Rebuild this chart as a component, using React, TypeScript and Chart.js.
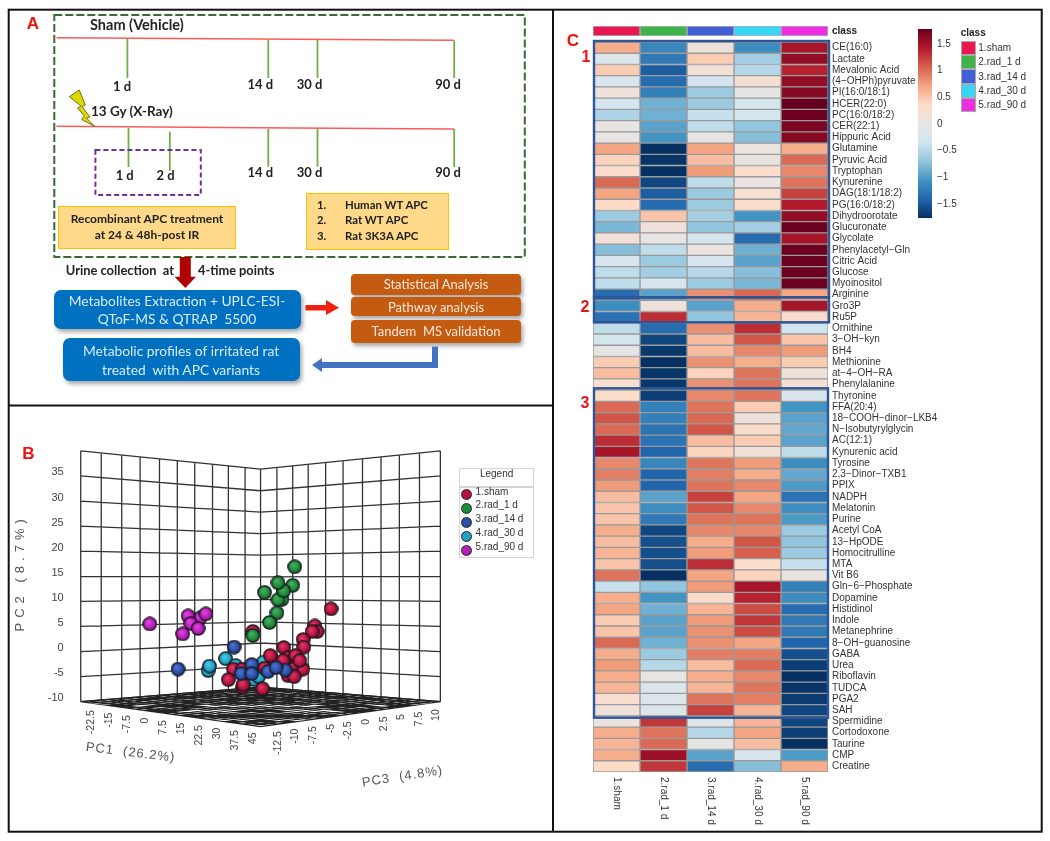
import React, { useEffect, useRef } from "react";
import { Chart, registerables } from "chart.js";

Chart.register(...registerables);

const classes = ["1.sham", "2.rad_1 d", "3.rad_14 d", "4.rad_30 d", "5.rad_90 d"];
const classColors = ["#e8174f", "#3cb44a", "#4060d8", "#38d6f5", "#ee2ee0"];

const metabolites = [
  "CE(16:0)", "Lactate", "Mevalonic Acid", "(4−OHPh)pyruvate", "PI(16:0/18:1)", "HCER(22:0)", "PC(16:0/18:2)", "CER(22:1)", "Hippuric Acid",
  "Glutamine", "Pyruvic Acid", "Tryptophan", "Kynurenine", "DAG(18:1/18:2)", "PG(16:0/18:2)", "Dihydroorotate", "Glucuronate", "Glycolate",
  "Phenylacetyl−Gln", "Citric Acid", "Glucose", "Myoinositol", "Arginine", "Gro3P", "Ru5P", "Ornithine", "3−OH−kyn", "BH4", "Methionine",
  "at−4−OH−RA", "Phenylalanine", "Thyronine", "FFA(20:4)", "18−COOH−dinor−LKB4", "N−Isobutyrylglycin", "AC(12:1)", "Kynurenic acid", "Tyrosine",
  "2,3−Dinor−TXB1", "PPIX", "NADPH", "Melatonin", "Purine", "Acetyl CoA", "13−HpODE", "Homocitrulline", "MTA", "Vit B6", "Gln−6−Phosphate",
  "Dopamine", "Histidinol", "Indole", "Metanephrine", "8−OH−guanosine", "GABA", "Urea", "Riboflavin", "TUDCA", "PGA2", "SAH", "Spermidine",
  "Cortodoxone", "Taurine", "CMP", "Creatine",
];

const shamZ = [0.65,-0.2,0.45,-0.25,0.1,-0.3,-0.55,0,-0.02,0.7,0.4,0.3,1,0.7,0.35,-0.65,-0.8,0.15,-0.75,-0.25,-0.45,-0.45,-1.35,-1.1,-1.3,-0.45,-0.3,-0.05,0.45,0.55,0.25,0.3,1,1.1,1,1.3,1.45,0.85,0.9,0.75,0.55,0.5,0.5,0.65,0.55,0.6,0.5,0.95,-0.4,0.65,0.7,0.45,0.5,1,0.65,0.75,0.65,0.6,0.25,0.1,0.05,0.65,0.6,0.65,0.35];
const rad1Z = [-1.15,-1.25,-1.45,-1.35,-1.2,-0.85,-0.85,-0.95,-1.05,-1.75,-1.72,-1.75,-1.6,-1.45,-1.35,0.5,0.12,-0.02,-0.45,-0.65,-0.6,-0.25,-0.95,0.1,1.3,-1.35,-1.6,-1.7,-1.75,-1.72,-1.7,-1.65,-1.2,-1.2,-1.3,-1.3,-1.4,-1.15,-1.4,-1.4,-0.95,-1.1,-1.25,-1.6,-1.55,-1.55,-1.55,-1.75,-0.7,-1.05,-0.85,-0.95,-0.95,-0.85,-0.65,-0.5,0,-0.2,-0.2,-0.2,1.25,0.95,1,1.5,1.25];
const rad14Z = [0.1,0.45,0.15,-0.3,-0.65,-0.65,-0.4,-0.45,0,0.7,0.55,0.75,-0.45,-0.65,-0.65,-0.6,-0.7,-0.3,0.03,-0.25,-0.5,-0.65,0.8,-0.95,-0.7,0.8,0.55,0.55,0.8,0.4,0.8,0.85,0.95,1,1.1,0.55,0.4,0.95,0.9,0.95,1.2,1.1,0.95,0.85,0.65,0.75,1.3,0.7,0.75,0.3,0.6,0.75,0.8,0.8,0.9,0.55,0.65,0.6,0.95,1.2,-0.15,-0.5,-0.05,-0.95,-1.35];
const rad30Z = [-1.1,-0.6,-0.5,0.2,-0.05,-0.3,-0.3,-0.7,-0.75,0.05,0.02,0.3,0.03,0.2,0.3,-1.05,-0.6,-1.35,-0.85,-0.95,-0.75,-0.8,1,0.65,0.6,1.3,1.1,0.85,0.65,0.95,0.95,0.95,0.45,0.1,0.3,0.45,0.15,0.75,0.65,0.85,0.7,0.85,0.95,0.85,1.1,1.05,0.3,0.4,1.45,1.35,1.15,1.25,1.15,0.7,0.9,1,0.85,0.95,0.9,0.6,0.6,0.7,0.55,-0.25,-0.75];
const rad90Z = [1.45,1.55,1.35,1.55,1.6,1.75,1.72,1.65,1.6,0.65,1,0.85,0.95,1.2,1.4,1.55,1.72,1.45,1.72,1.72,1.72,1.72,0.7,1.45,0.3,-0.35,0.5,0.75,0.45,0.1,0.2,-0.25,-1.05,-0.95,-0.9,-0.95,-0.45,-1.1,-0.9,-1,-1.3,-1.1,-1,-0.65,-0.7,-0.65,-0.4,0.02,-1.2,-1.1,-1.35,-1.25,-1.25,-1.4,-1.55,-1.65,-1.75,-1.72,-1.68,-1.6,-1.6,-1.65,-1.75,-1,0.65];
const heatColumns = [shamZ, rad1Z, rad14Z, rad30Z, rad90Z];

const colorStops = ["#053061", "#2166ac", "#4393c3", "#92c5de", "#d1e5f0", "#e8e4e2", "#fddbc7", "#f4a582", "#d6604d", "#b2182b", "#67001f"];
const colorTicks = [1.5, 1, 0.5, 0, -0.5, -1, -1.5];

// Panel B: projected horizontal position, PC2 value
const shamPts = [[39.2,8.5],[30.2,5.1],[31.5,4.0],[28.7,4.0],[-4.3,4.0],[23.7,2.4],[24.1,0.9],[12.9,0.8],[18.5,-3.1],[23.5,-3.5],[17.5,-2.8],[15.3,-1.2],[19.4,-0.8],[12.5,-1.8],[21.8,-1.8],[5.4,-0.8],[2.2,-3.3],[15.3,-4.8],[18.7,-5.0],[-15.1,-3.5],[-10.1,-3.5],[-17.9,-5.6],[-10.1,-7.1],[-9.7,-6.6],[1.1,-7.4]];
const rad1Pts = [[19.0,16.9],[17.9,13.2],[11.9,10.4],[9.7,10.3],[12.9,12.1],[9.7,13.7],[2.2,11.8],[9.1,7.7],[5.0,5.8],[-4.3,3.2]];
const rad14Pts = [[-14.7,0.9],[-45.9,-3.5],[-4.9,-2.6],[13.8,-3.7],[4.1,-4.0],[8.6,-3.2],[-10.8,-4.4],[-4.9,-4.4]];
const rad30Pts = [[-19.4,-1.4],[-29.1,-3.8],[-28.4,-2.9],[-13.8,-2.8],[1.7,-2.1],[-5.4,-3.1],[-8.6,-4.4],[-3.7,-5.6],[-1.1,-5.0]];
const rad90Pts = [[-61.6,5.5],[-33.6,6.7],[-40.3,7.1],[-30.4,7.5],[-38.8,5.6],[-34.7,4.6],[-43.3,3.5]];
const ballColors = ["#b5123f", "#1f8a3a", "#2a4ea8", "#22a3c4", "#b81fb8"];

const leftWallX = [-100,-88.6,-77.2,-67,-56.2,-46.3,-36.6,-26.7,-17.9,-8.6,0];
const rightWallX = [0,9.1,17.9,26.5,36.2,45.9,56.7,67,77.2,88.4,100];
const edgeLevels = [40,35,30,25,20,15,10,5,0,-5,-10];
const backLevels = [36.35,32.05,27.8,23.5,19.2,14.9,10.4,5.9,1.7,-2.8,-7.1];
const pc2Ticks = [35,30,25,20,15,10,5,0,-5,-10];
const pc1Ticks = ["-22.5","-15","-7.5","0","7.5","15","22.5","30","37.5","45"];
const pc3Ticks = ["-12.5","-10","-7.5","-5","-2.5","0","2.5","5","7.5","10"];
const FRONT_Y = -14.94;

const SANS = '"Liberation Sans", Arial, sans-serif';
const LATO = 'Lato, "Open Sans", sans-serif';

function hexRgb(h: string) {
  return [1, 3, 5].map((i) => parseInt(h.slice(i, i + 2), 16));
}
function heatColor(z: number) {
  const t = Math.max(0, Math.min(0.99999, (z + 1.75) / 3.5)) * (colorStops.length - 1);
  const i = Math.floor(t);
  const f = t - i;
  const a = hexRgb(colorStops[i]);
  const b = hexRgb(colorStops[i + 1]);
  return `rgb(${a.map((v, k) => Math.round(v + (b[k] - v) * f)).join(",")})`;
}
function sphere(color: string, d = 15) {
  const c = document.createElement("canvas");
  c.width = d;
  c.height = d;
  const g = c.getContext("2d")!;
  const r = d / 2 - 0.8;
  const grad = g.createRadialGradient(d / 2 - 1.5, d / 2 - 2, 1, d / 2, d / 2, r);
  const [R, G, B] = hexRgb(color);
  grad.addColorStop(0, `rgb(${Math.min(255, R + 35)},${Math.min(255, G + 35)},${Math.min(255, B + 35)})`);
  grad.addColorStop(0.65, color);
  grad.addColorStop(1, `rgb(${R * 0.55},${G * 0.55},${B * 0.55})`);
  g.fillStyle = grad;
  g.beginPath();
  g.arc(d / 2, d / 2, r, 0, Math.PI * 2);
  g.fill();
  g.strokeStyle = "#1a1a22";
  g.lineWidth = 1.3;
  g.stroke();
  return c;
}
const lerp = (a: number, b: number, t: number) => a + (b - a) * t;
const gap = { x: NaN, y: NaN };

function buildGrid() {
  const pts: any[] = [];
  const seg = (x1: number, y1: number, x2: number, y2: number) => pts.push({ x: x1, y: y1 }, { x: x2, y: y2 }, gap);
  edgeLevels.forEach((lv, i) => {
    seg(-100, lv, 0, backLevels[i]);
    seg(0, backLevels[i], 100, lv);
  });
  const top0 = edgeLevels[0], topB = backLevels[0];
  const bot0 = edgeLevels[10], botB = backLevels[10];
  leftWallX.forEach((x) => {
    const t = (x + 100) / 100;
    seg(x, lerp(top0, topB, t), x, lerp(bot0, botB, t));
  });
  rightWallX.forEach((x) => {
    const t = 1 - x / 100;
    seg(x, lerp(top0, topB, t), x, lerp(bot0, botB, t));
  });
  return pts;
}
function buildFloor() {
  const pts: any[] = [];
  const n = 20;
  for (let i = 0; i <= n; i++) {
    const t = i / n;
    pts.push({ x: lerp(-100, 0, t), y: lerp(-10, -7.1, t) }, { x: lerp(0, 100, t), y: lerp(FRONT_Y, -10, t) }, gap);
    pts.push({ x: lerp(100, 0, t), y: lerp(-10, -7.1, t) }, { x: lerp(0, -100, t), y: lerp(FRONT_Y, -10, t) }, gap);
  }
  return pts;
}

const pcaLabels = {
  id: "pcaLabels",
  afterDraw(chart: any) {
    const { ctx, scales } = chart;
    const xs = scales.x, ys = scales.y;
    const rot = (txt: string, px: number, py: number, angle: number, align: CanvasTextAlign) => {
      ctx.save();
      ctx.translate(px, py);
      ctx.rotate(angle);
      ctx.textAlign = align;
      ctx.textBaseline = "middle";
      ctx.fillText(txt, 0, 0);
      ctx.restore();
    };
    ctx.save();
    ctx.fillStyle = "#444";
    ctx.font = `11px ${SANS}`;
    pc2Ticks.forEach((v) => rot(String(v), xs.getPixelForValue(-100) - 17, ys.getPixelForValue(v) - 3.5, 0, "right"));
    ctx.font = `10.5px ${SANS}`;
    pc1Ticks.forEach((l, k) => {
      const t = (k + 0.6) / 10;
      rot(l, xs.getPixelForValue(-100 + 100 * t), ys.getPixelForValue(lerp(-10, FRONT_Y, t)) + 7, -Math.PI / 2, "right");
    });
    pc3Ticks.forEach((l, k) => {
      const t = 0.097 + 0.098 * k;
      rot(l, xs.getPixelForValue(100 * t), ys.getPixelForValue(lerp(FRONT_Y, -10, t)) + 7, -Math.PI / 2, "right");
    });
    ctx.fillStyle = "#555";
    ctx.font = `13px ${SANS}`;
    (ctx as any).letterSpacing = "0.7px";
    rot("P C 2   ( 8 . 7 % )", 10.5, 145, -Math.PI / 2, "center");
    (ctx as any).letterSpacing = "1px";
    rot("PC1  (26.2%)", 120.5, 322.7, (7 * Math.PI) / 180, "center");
    rot("PC3  (4.8%)", 392.6, 346.7, (-9 * Math.PI) / 180, "center");
    (ctx as any).letterSpacing = "0px";
    ctx.restore();
  },
};

const heatXLabels = {
  id: "heatXLabels",
  afterDraw(chart: any) {
    const { ctx, scales, chartArea } = chart;
    ctx.save();
    ctx.fillStyle = "#333";
    ctx.font = `10px ${SANS}`;
    classes.forEach((c, i) => {
      ctx.save();
      ctx.translate(scales.x.getPixelForValue(i + 0.5), chartArea.bottom + 5);
      ctx.rotate(Math.PI / 2);
      ctx.textAlign = "left";
      ctx.textBaseline = "middle";
      ctx.fillText(c, 0, 0);
      ctx.restore();
    });
    ctx.restore();
  },
};

const baseOpts: any = {
  responsive: false,
  animation: false,
  events: [],
  plugins: { legend: { display: false }, tooltip: { enabled: false } },
};

const fixedWidth = (width: number) => (s: any) => {
  s.width = width;
  s.paddingTop = 0;
  s.paddingBottom = 0;
};

const yRightAxis = (width: number, font: any, color = "#333") => ({
  position: "right",
  grid: { display: false, drawTicks: false },
  border: { display: false },
  ticks: { autoSkip: false, font, color, padding: 4 },
  afterFit: fixedWidth(width),
});

function Box(p: { l: number; t: number; w: number; h: number; bg: string; border?: string; r?: number; shadow?: boolean; children?: any }) {
  return (
    <div
      style={{
        position: "absolute", left: p.l, top: p.t, width: p.w, height: p.h, background: p.bg, boxSizing: "border-box",
        border: p.border ? `1.5px solid ${p.border}` : undefined, borderRadius: p.r || 0,
        boxShadow: p.shadow ? "2px 3px 4px rgba(0,0,0,0.35)" : undefined,
      }}
    />
  );
}
function T(p: { x: number; y: number; s: number; c?: string; b?: boolean; a?: "l" | "c"; f?: string; children: any }) {
  return (
    <div
      style={{
        position: "absolute", left: p.x, top: p.y, fontSize: p.s, color: p.c || "#222", fontWeight: p.b ? 700 : 400,
        fontFamily: p.f || LATO, whiteSpace: "pre", lineHeight: 1,
        transform: p.a === "c" ? "translate(-50%,-50%)" : "translate(0,-50%)",
      }}
    >
      {p.children}
    </div>
  );
}

export default function App() {
  const heatRef = useRef<HTMLCanvasElement>(null);
  const classRef = useRef<HTMLCanvasElement>(null);
  const barRef = useRef<HTMLCanvasElement>(null);
  const pcaRef = useRef<HTMLCanvasElement>(null);

  useEffect(() => {
    document.body.style.margin = "0";
    const xHidden = { type: "linear", min: 0, max: 5, display: false };
    const heat = new Chart(heatRef.current!, {
      type: "bar",
      data: {
        labels: metabolites,
        datasets: heatColumns.map((col, i) => ({
          label: classes[i],
          data: col.map(() => [i, i + 1]),
          backgroundColor: col.map(heatColor),
          borderColor: "#9a9a9a",
          borderWidth: 1,
          borderSkipped: false,
          grouped: false,
          barPercentage: 1,
          categoryPercentage: 1,
        })),
      } as any,
      options: {
        ...baseOpts,
        indexAxis: "y",
        layout: { padding: { left: 2, top: 2, bottom: 60, right: 0 } },
        scales: { x: xHidden, y: yRightAxis(115, { family: SANS, size: 10 }) },
      } as any,
      plugins: [heatXLabels],
    });
    const cls = new Chart(classRef.current!, {
      type: "bar",
      data: {
        labels: ["class"],
        datasets: classes.map((c, i) => ({
          label: c,
          data: [[i, i + 1]],
          backgroundColor: classColors[i],
          borderColor: "#b0b0b0",
          borderWidth: 1,
          borderSkipped: false,
          grouped: false,
          barPercentage: 1,
          categoryPercentage: 1,
        })),
      } as any,
      options: {
        ...baseOpts,
        indexAxis: "y",
        layout: { padding: { left: 2, top: 1, bottom: 1, right: 0 } },
        scales: { x: xHidden, y: yRightAxis(40, { family: SANS, size: 10, weight: "bold" }, "#222") },
      } as any,
    });
    const bar = new Chart(barRef.current!, {
      type: "bar",
      data: {
        labels: ["z"],
        datasets: [{
          data: [[-1.76, 1.78]],
          barPercentage: 1,
          categoryPercentage: 1,
          backgroundColor: (c: any) => {
            const a = c.chart.chartArea;
            if (!a) return "#ccc";
            const g = c.chart.ctx.createLinearGradient(0, a.bottom, 0, a.top);
            colorStops.forEach((s, i) => g.addColorStop(i / (colorStops.length - 1), s));
            return g;
          },
        }],
      } as any,
      options: {
        ...baseOpts,
        layout: { padding: { left: 2, top: 2, bottom: 2, right: 0 } },
        scales: {
          x: { display: false },
          y: {
            type: "linear", position: "right", min: -1.76, max: 1.78,
            grid: { display: false, drawTicks: false },
            border: { display: false },
            afterBuildTicks: (s: any) => { s.ticks = colorTicks.map((value) => ({ value })); },
            afterFit: fixedWidth(40),
            ticks: {
              font: { family: SANS, size: 10 }, color: "#333", padding: 5,
              callback: (v: any) => String(v).replace("-", "−"),
            },
          },
        },
      } as any,
    });
    const mk = (pts: number[][], i: number, order: number, label: string) => ({
      label,
      data: pts.map(([x, y]) => ({ x, y })),
      pointStyle: sphere(ballColors[i]),
      pointRadius: 6,
      showLine: false,
      order,
    });
    const pca = new Chart(pcaRef.current!, {
      type: "scatter",
      data: {
        datasets: [
          { label: "grid", data: buildGrid(), showLine: true, pointRadius: 0, borderColor: "#333", borderWidth: 1.3, order: 20 },
          { label: "floor", data: buildFloor(), showLine: true, pointRadius: 0, borderColor: "#222", borderWidth: 1.3, order: 19 },
          mk(rad30Pts, 3, 5, classes[3]),
          mk(shamPts, 0, 4, classes[0]),
          mk(rad14Pts, 2, 3, classes[2]),
          mk(rad90Pts, 4, 2, classes[4]),
          mk(rad1Pts, 1, 1, classes[1]),
        ],
      } as any,
      options: {
        ...baseOpts,
        scales: {
          x: { type: "linear", min: -135.45, max: 157.09, display: false },
          y: { type: "linear", min: -34.17, max: 42.76, display: false },
        },
      } as any,
      plugins: [pcaLabels],
    });
    return () => {
      heat.destroy();
      cls.destroy();
      bar.destroy();
      pca.destroy();
    };
  }, []);

  const abs = (l: number, t: number): any => ({ position: "absolute", left: l, top: t });
  const ball = (c: string): any => ({
    position: "absolute", width: 9, height: 9, borderRadius: "50%", border: "1px solid #222",
    background: `radial-gradient(circle at 40% 35%, ${c}, ${c} 60%, #222 130%)`,
  });

  return (
    <div style={{ position: "fixed", left: 0, top: 0, width: 1050, height: 841, background: "#fff", overflow: "hidden", filter: "blur(0.4px)" }}>
      <canvas ref={pcaRef} width={540} height={400} style={abs(10, 430)} />
      <canvas ref={heatRef} width={352} height={792} style={abs(591, 39.6)} />
      <canvas ref={classRef} width={277} height={12} style={abs(591, 25)} />
      <canvas ref={barRef} width={56} height={193} style={abs(916, 27)} />

      <Box l={58.2} t={206} w={178} h={43} bg="#ffd98a" border="#ffc000" />
      <Box l={305.5} t={193} w={143} h={57} bg="#ffd98a" border="#ffc000" />
      <Box l={54} t={290} w={247} h={39} bg="#0070c0" r={7} shadow />
      <Box l={63.4} t={338} w={237} h={43} bg="#0070c0" r={7} shadow />
      <Box l={351} t={274} w={170} h={20.5} bg="#c55a11" r={4} shadow />
      <Box l={351} t={297.3} w={170} h={18.5} bg="#c55a11" r={4} shadow />
      <Box l={351} t={320} w={170} h={22.5} bg="#c55a11" r={4} shadow />

      <svg width={1050} height={841} style={{ position: "absolute", left: 0, top: 0, pointerEvents: "none" }}>
        <rect x={8.7} y={9.7} width={1033} height={822} fill="none" stroke="#111" strokeWidth={2} />
        <line x1={553} y1={10} x2={553} y2={831} stroke="#111" strokeWidth={2} />
        <line x1={9} y1={405.5} x2={553} y2={405.5} stroke="#111" strokeWidth={2} />
        <rect x={54.3} y={15} width={470.5} height={242} fill="none" stroke="#3a6b35" strokeWidth={2} strokeDasharray="8 3" />
        <line x1={56.5} y1={37.7} x2={454} y2={40.3} stroke="#ff5a5a" strokeWidth={1.5} />
        <line x1={56.5} y1={126.3} x2={454} y2={129} stroke="#ff5a5a" strokeWidth={1.5} />
        {[[127.4, 39], [268.3, 40], [317.5, 40], [454.2, 40.5]].map(([x, y], i) => (
          <line key={i} x1={x} y1={y} x2={x} y2={78} stroke="#70ad47" strokeWidth={1.8} />
        ))}
        {[[128.5, 128, 167], [169.8, 131.7, 170.7], [268.3, 129, 166.7], [317.5, 129, 166.7], [454.2, 129, 167]].map(([x, a, b], i) => (
          <line key={i} x1={x} y1={a} x2={x} y2={b} stroke="#70ad47" strokeWidth={1.8} />
        ))}
        <rect x={95.4} y={150} width={105.4} height={45} fill="none" stroke="#7030a0" strokeWidth={2} strokeDasharray="5 3" />
        <polygon points="69.3,96.7 79.3,90 85.3,105 82,106.7 90,117 86.4,118 95,126.7 81.6,119.3 84.4,116 77.5,108 81,106" fill="#dcd800" stroke="#6f6f20" strokeWidth={1} />
        <polygon points="179.8,257 190.8,257 190.8,276.7 196,276.7 185.3,288 174.6,276.7 179.8,276.7" fill="#b00000" />
        <polygon points="305.5,305 326,305 326,300 339,307.7 326,315 326,310.5 305.5,310.5" fill="#f02010" />
        <polygon points="432,346.5 438,346.5 438,368 322,368 322,372 312,365 322,358 322,362 432,362" fill="#4472c4" />
        <rect x={594} y={41} width={235} height={256.3} fill="none" stroke="#2f5597" strokeWidth={2.4} />
        <rect x={594} y={297.3} width={235} height={25} fill="none" stroke="#2f5597" strokeWidth={2.4} />
        <rect x={594} y={388.3} width={234} height={329.4} fill="none" stroke="#2f5597" strokeWidth={2.4} />
      </svg>

      <T x={33} y={23} s={17} c="#f01010" b a="c" f={SANS}>A</T>
      <T x={28.5} y={453} s={17} c="#f01010" b a="c" f={SANS}>B</T>
      <T x={573} y={40} s={17} c="#f01010" b a="c" f={SANS}>C</T>
      <T x={586} y={57} s={16} c="#f01010" b a="c" f={SANS}>1</T>
      <T x={585} y={307} s={16} c="#f01010" b a="c" f={SANS}>2</T>
      <T x={585} y={403} s={16} c="#f01010" b a="c" f={SANS}>3</T>

      <T x={90} y={25} s={14.5} b>Sham (Vehicle)</T>
      <T x={122} y={86} s={13} b a="c">1 d</T>
      <T x={260.3} y={83.7} s={13} b a="c">14 d</T>
      <T x={309.6} y={83.7} s={13} b a="c">30 d</T>
      <T x={448} y={83.7} s={13} b a="c">90 d</T>
      <T x={91} y={111.7} s={13.5} b>13 Gy (X-Ray)</T>
      <T x={124.7} y={175} s={13} b a="c">1 d</T>
      <T x={165.6} y={175} s={13} b a="c">2 d</T>
      <T x={260.3} y={171.7} s={13} b a="c">14 d</T>
      <T x={309.6} y={171.7} s={13} b a="c">30 d</T>
      <T x={448} y={171.7} s={13} b a="c">90 d</T>
      <T x={147} y={219} s={12} b a="c">Recombinant APC treatment</T>
      <T x={147} y={234.7} s={12} b a="c">at 24 &amp; 48h-post IR</T>
      {["1.", "2.", "3."].map((n, i) => (
        <T key={n} x={317} y={205 + i * 15.3} s={11.4} b>{n}</T>
      ))}
      {["Human WT APC", "Rat WT APC", "Rat 3K3A APC"].map((n, i) => (
        <T key={n} x={345} y={205 + i * 15.3} s={11.4} b>{n}</T>
      ))}
      <T x={65.8} y={270} s={12.9} b>Urine collection  at</T>
      <T x={198} y={270} s={12.8} b>4-time points</T>
      <T x={177} y={300.7} s={13.8} c="#d8ecfa" a="c">Metabolites Extraction + UPLC-ESI-</T>
      <T x={177} y={319} s={13.8} c="#d8ecfa" a="c">QToF-MS &amp; QTRAP  5500</T>
      <T x={181} y={350.7} s={13.8} c="#d8ecfa" a="c">Metabolic profiles of irritated rat</T>
      <T x={181} y={369.7} s={13.8} c="#d8ecfa" a="c">treated  with APC variants</T>
      <T x={436} y={284.3} s={13} c="#f7e8da" a="c">Statistical Analysis</T>
      <T x={436} y={306.7} s={13} c="#f7e8da" a="c">Pathway analysis</T>
      <T x={436} y={331} s={13} c="#f7e8da" a="c">Tandem  MS validation</T>

      <div style={{ position: "absolute", left: 459.4, top: 468.3, width: 74.6, height: 90, border: "1.5px solid #d4d4d4", boxSizing: "border-box" }} />
      <div style={{ position: "absolute", left: 459.4, top: 486, width: 74.6, height: 1.5, background: "#d4d4d4" }} />
      <T x={496.6} y={474} s={10} c="#333" a="c" f={SANS}>Legend</T>
      {classes.map((c, i) => (
        <React.Fragment key={c}>
          <div style={{ ...ball(ballColors[i]), left: 461, top: 489 + i * 14 }} />
          <T x={475.6} y={491.5 + i * 13.8} s={10} c="#333" f={SANS}>{c}</T>
        </React.Fragment>
      ))}

      <T x={960.7} y={33} s={10} b c="#222" f={SANS}>class</T>
      {classes.map((c, i) => (
        <React.Fragment key={c}>
          <div style={{ position: "absolute", left: 961, top: 40.7 + i * 14.3, width: 14.7, height: 14.3, background: classColors[i], border: "1px solid #aaa", boxSizing: "border-box" }} />
          <T x={978.3} y={47.7 + i * 14.4} s={10} c="#333" f={SANS}>{c}</T>
        </React.Fragment>
      ))}
    </div>
  );
}
